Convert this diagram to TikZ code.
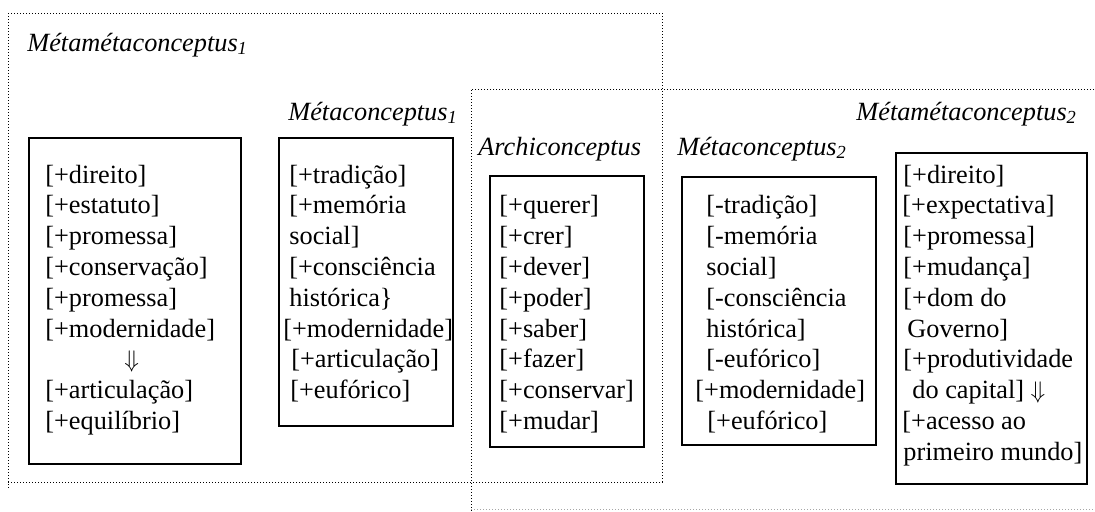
\documentclass[tikz,border=0pt]{standalone}
\usepackage{fontspec}
\setmainfont{Liberation Serif}
\begin{document}
\begin{tikzpicture}[x=0.5pt,y=-0.5pt,
  txt/.style={anchor=base west, inner sep=0pt, font=\fontsize{13.15}{15}\selectfont},
  lbl/.style={anchor=base west, inner sep=0pt, font=\fontsize{13.15}{15}\selectfont\itshape},
  frame/.style={line width=0.5pt, dash pattern=on 0.5pt off 1pt, line cap=butt},
  box/.style={draw, line width=0.75pt, inner sep=0pt, anchor=north west},
  fbox/.style={box, line width=1pt}]
\useasboundingbox (0,0) rectangle (1095,511);

% outer dotted frames
\draw[frame] (8,13) -- (662,13) -- (662,482) -- (8,482);
\draw[frame] (8,13) -- (8,490);
\draw[frame] (1100,89) -- (471,89) -- (471,512);
\draw[frame, gray!70] (471,509) -- (1100,509);

% frame labels
\node[lbl] (mm1) at (27,51) {Métamétaconceptus\textsubscript{1}};
\node[lbl] (m1) at (288,120) {Métaconceptus\textsubscript{1}};
\node[lbl] (ac) at (478,155) {Archiconceptus};
\node[lbl] (m2) at (677,155) {Métaconceptus\textsubscript{2}};
\node[lbl] (mm2) at (856,120) {Métamétaconceptus\textsubscript{2}};

% boxes
\node[box, minimum width=106pt, minimum height=163pt] (b1) at (28,137) {};
\node[box, minimum width=87pt, minimum height=144pt] (b2) at (278,137) {};
\node[box, minimum width=77pt, minimum height=135.5pt] (b3) at (489,175) {};
\node[box, minimum width=97pt, minimum height=134pt] (b4) at (681,176) {};
\node[fbox, minimum width=95.5pt, minimum height=165.5pt] (b5) at (895,152) {};

% box contents, one row every 30.8 units
\foreach \dx/\t [count=\k from 0] in {45/{[+direito]},45/{[+estatuto]},45/{[+promessa]},
  45/{[+conservação]},45/{[+promessa]},45/{[+modernidade]},124/{$\Downarrow$},
  45/{[+articulação]},45/{[+equilíbrio]}}
  \node[txt] (b1t\k) at (\dx,183+30.8*\k) {\t};

\foreach \dx/\t [count=\k from 0] in {289/{[+tradição]},289/{[+memória},289/{social]},
  289/{[+consciência},289/{histórica\}},283/{[+modernidade]},291/{[+articulação]},290/{[+eufórico]}}
  \node[txt] (b2t\k) at (\dx,183+30.8*\k) {\t};

\foreach \dx/\t [count=\k from 1] in {499/{[+querer]},499/{[+crer]},499/{[+dever]},499/{[+poder]},
  499/{[+saber]},499/{[+fazer]},499/{[+conservar]},499/{[+mudar]}}
  \node[txt] (b3t\k) at (\dx,183+30.8*\k) {\t};

\foreach \dx/\t [count=\k from 1] in {706/{[-tradição]},706/{[-memória},706/{social]},
  706/{[-consciência},706/{histórica]},706/{[-eufórico]},695/{[+modernidade]},707/{[+eufórico]}}
  \node[txt] (b4t\k) at (\dx,183+30.8*\k) {\t};

\foreach \dx/\t [count=\k from 0] in {903/{[+direito]},902/{[+expectativa]},903/{[+promessa]},
  903/{[+mudança]},903/{[+dom do},907/{Governo]},903/{[+produtividade},
  912/{do capital] $\Downarrow$},902/{[+acesso ao},903/{primeiro mundo]}}
  \node[txt] (b5t\k) at (\dx,183+30.8*\k) {\t};
\end{tikzpicture}
\end{document}
